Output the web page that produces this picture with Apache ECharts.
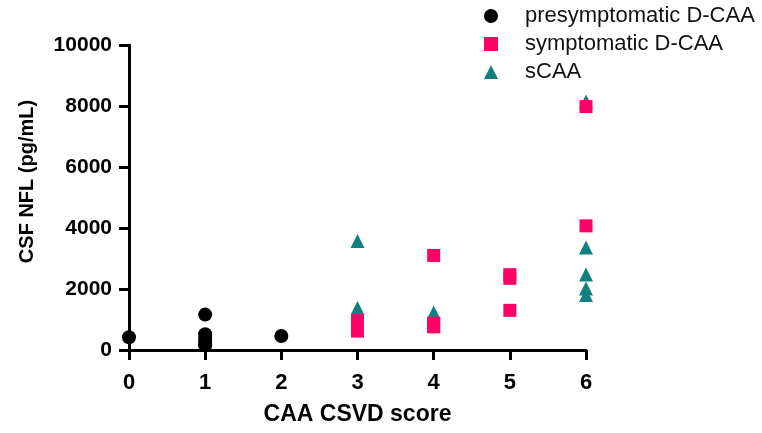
<!DOCTYPE html>
<html>
<head>
<meta charset="utf-8">
<script src="https://cdn.jsdelivr.net/npm/echarts@6/dist/echarts.min.js"></script>
<style>
  html, body { margin: 0; padding: 0; background: #fff; }
  #chart { width: 762px; height: 433px; }
</style>
</head>
<body>
<div id="chart"></div>
<script>
// CSF neurofilament light by CAA CSVD score, three patient groups
const seriesNames = ['presymptomatic D-CAA', 'symptomatic D-CAA', 'sCAA'];
const xTicks = [0, 1, 2, 3, 4, 5, 6];
const yTicks = [0, 2000, 4000, 6000, 8000, 10000];

// [CSVD score, NFL pg/mL]
const presymptomatic = [
  [0, 420],
  [1, 1160], [1, 520], [1, 400], [1, 300], [1, 200], [1, 150],
  [2, 460]
];
const symptomatic = [
  [3, 960], [3, 800], [3, 620],
  [4, 3100], [4, 880], [4, 760],
  [5, 2470], [5, 2350], [5, 1300],
  [6, 7980], [6, 4070]
];
const sporadic = [
  [3, 3570], [3, 1380],
  [4, 1230], [4, 820],
  [6, 8150], [6, 3360], [6, 2475], [6, 2020], [6, 1800]
];

const chart = echarts.init(document.getElementById('chart'));
const font = 'Liberation Sans, Arial, sans-serif';

chart.setOption({
  animation: false,
  textStyle: { fontFamily: font },
  grid: { left: 129, right: 176, top: 45, bottom: 83, containLabel: false },
  legend: {
    data: [
      { name: seriesNames[0], icon: 'circle' },
      { name: seriesNames[1], icon: 'rect' },
      { name: seriesNames[2], icon: 'triangle' }
    ],
    orient: 'vertical',
    left: 479,
    top: 0,
    itemWidth: 14,
    itemHeight: 14,
    itemGap: 6,
    textStyle: { fontFamily: font, fontSize: 22, color: '#111', padding: [0, 0, 0, 22] }
  },
  xAxis: {
    type: 'value',
    min: xTicks[0],
    max: xTicks[xTicks.length - 1],
    interval: 1,
    name: 'CAA CSVD score',
    nameLocation: 'middle',
    nameGap: 53,
    nameTextStyle: { fontFamily: font, fontSize: 23, fontWeight: 'bold', color: '#000' },
    axisLine: { show: true, lineStyle: { color: '#000', width: 3 } },
    axisTick: { show: true, length: 10, lineStyle: { color: '#000', width: 3 } },
    axisLabel: { fontFamily: font, fontSize: 22, fontWeight: 'bold', color: '#000', margin: 22 },
    splitLine: { show: false }
  },
  yAxis: {
    type: 'value',
    min: yTicks[0],
    max: yTicks[yTicks.length - 1],
    interval: 2000,
    name: 'CSF NFL (pg/mL)',
    nameLocation: 'middle',
    nameGap: 92,
    nameTextStyle: { fontFamily: font, fontSize: 20, fontWeight: 'bold', color: '#000', padding: [0, 0, 0, 32] },
    axisLine: { show: true, lineStyle: { color: '#000', width: 3 } },
    axisTick: { show: true, length: 10, lineStyle: { color: '#000', width: 3 } },
    axisLabel: {
      fontFamily: font, fontSize: 21, fontWeight: 'bold', color: '#000', margin: 17,
      formatter: function (v) { return String(v); }
    },
    splitLine: { show: false }
  },
  series: [
    {
      name: seriesNames[0], type: 'scatter', data: presymptomatic,
      symbol: 'circle', symbolSize: 14, z: 3,
      itemStyle: { color: '#000000', opacity: 1 }
    },
    {
      name: seriesNames[1], type: 'scatter', data: symptomatic,
      symbol: 'rect', symbolSize: 13, z: 2,
      itemStyle: { color: '#FF0066', opacity: 1 }
    },
    {
      name: seriesNames[2], type: 'scatter', data: sporadic,
      symbol: 'triangle', symbolSize: 14, z: 1,
      itemStyle: { color: '#138080', opacity: 1 }
    }
  ]
});
</script>
</body>
</html>
